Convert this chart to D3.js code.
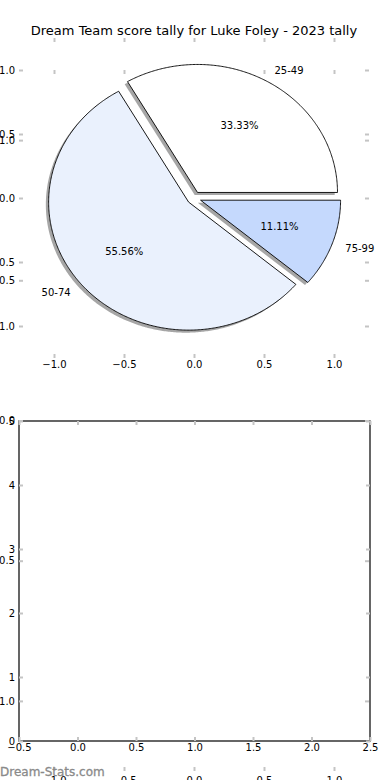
<!DOCTYPE html>
<html>
<head>
<meta charset="utf-8">
<script src="https://cdn.jsdelivr.net/npm/d3@7"></script>
<style>
  body { margin: 0; background: #fff; }
  text { font-family: "DejaVu Sans", sans-serif; fill: #000; }
  .tick line { stroke: #c4c4c4; stroke-width: 2; }
  .domain { display: none; }
</style>
</head>
<body>
<script>
// score bands and counts (33.33 / 55.56 / 11.11 %)
var bands = ["25-49", "50-74", "75-99"];
var counts = [3, 5, 1];
var colors = ["#ffffff", "#eaf1fd", "#c5d9fd"];
var explode = [0.05, 0.05, 0.05];

var pieTicks = [-1, -0.5, 0, 0.5, 1];
var barXTicks = [-0.5, 0, 0.5, 1, 1.5, 2, 2.5];
var barYTicks = [0, 1, 2, 3, 4, 5];

var width = 390, height = 780;
var fmt1 = d3.format(".1f");

var svg = d3.select("body").append("svg")
  .attr("width", width)
  .attr("height", height);

svg.append("rect").attr("width", width).attr("height", height).attr("fill", "#fff");

// draws ticks on all four sides, labels on left and bottom
function drawTicks(g, x, y, xt, yt, xf, yf, padB) {
  var x0 = x.range()[0], x1 = x.range()[1];
  var y0 = y.range()[0], y1 = y.range()[1];
  g.append("g").attr("transform", "translate(0," + y0 + ")")
    .call(d3.axisBottom(x).tickValues(xt).tickFormat(xf).tickSize(-4).tickPadding(padB || 3))
    .selectAll("text").style("font-size", "10px").style("font-family", "DejaVu Sans");
  g.append("g").attr("transform", "translate(0," + y1 + ")")
    .call(d3.axisTop(x).tickValues(xt).tickFormat("").tickSize(-4));
  g.append("g").attr("transform", "translate(" + x0 + ",0)")
    .call(d3.axisLeft(y).tickValues(yt).tickFormat(yf).tickSize(-4).tickPadding(4))
    .selectAll("text").style("font-size", "10px").style("font-family", "DejaVu Sans");
  g.append("g").attr("transform", "translate(" + x1 + ",0)")
    .call(d3.axisRight(y).tickValues(yt).tickFormat("").tickSize(-4));
  g.selectAll(".tick text").attr("fill", "#000");
}

// ---- empty lower axes
var bx = d3.scaleLinear().domain([-0.5, 2.5]).range([19, 370]);
var by = d3.scaleLinear().domain([0, 5]).range([741, 421]);
var gBar = svg.append("g");
gBar.append("rect")
  .attr("x", bx(-0.5)).attr("y", by(5))
  .attr("width", bx(2.5) - bx(-0.5)).attr("height", by(0) - by(5))
  .attr("fill", "none").attr("stroke", "#000").attr("stroke-width", 1.2);
drawTicks(gBar, bx, by, barXTicks, barYTicks, fmt1, d3.format("d"));

// ---- stray stretched pie axes (no pie)
var sx = d3.scaleLinear().domain([-1.25, 1.25]).range([19, 369]);
var sy = d3.scaleLinear().domain([-1.25, 1.25]).range([771, 70]);
drawTicks(svg.append("g"), sx, sy, pieTicks, pieTicks, fmt1, fmt1, 6);

// ---- pie axes
var px = d3.scaleLinear().domain([-1.25, 1.25]).range([19, 369]);
var py = d3.scaleLinear().domain([-1.25, 1.25]).range([358, 38]);
var gPie = svg.append("g");
drawTicks(gPie, px, py, pieTicks, pieTicks, fmt1, fmt1);

var total = d3.sum(counts);
var arcs = d3.pie().sort(null).value(function(d) { return d; })(counts);

var wedges = arcs.map(function(a, i) {
  // matplotlib style: start at 3 o'clock, counter-clockwise
  var t1 = a.startAngle, t2 = a.endAngle;
  var tm = (t1 + t2) / 2;
  var cx = explode[i] * Math.cos(tm), cy = explode[i] * Math.sin(tm);
  var n = Math.max(2, Math.ceil((t2 - t1) / 0.01));
  var pts = [[cx, cy]];
  d3.range(n + 1).forEach(function(k) {
    var t = t1 + (t2 - t1) * k / n;
    pts.push([cx + Math.cos(t), cy + Math.sin(t)]);
  });
  return { i: i, pts: pts, tm: tm, cx: cx, cy: cy, pct: a.value / total * 100 };
});

var line = d3.line()
  .x(function(d) { return px(d[0]); })
  .y(function(d) { return py(d[1]); });

var shadowLine = d3.line()
  .x(function(d) { return px(d[0] - 0.02); })
  .y(function(d) { return py(d[1] - 0.02); });

gPie.selectAll(".shadow").data(wedges).enter().append("path")
  .attr("class", "shadow")
  .attr("d", function(d) { return shadowLine(d.pts) + "Z"; })
  .attr("fill", "#4d4d4d")
  .attr("fill-opacity", 0.5);

gPie.selectAll(".wedge").data(wedges).enter().append("path")
  .attr("class", "wedge")
  .attr("d", function(d) { return line(d.pts) + "Z"; })
  .attr("fill", function(d) { return colors[d.i]; })
  .attr("stroke", "#000")
  .attr("stroke-width", 0.9)
  .attr("stroke-linejoin", "miter");

gPie.selectAll(".lbl").data(wedges).enter().append("text")
  .attr("x", function(d) { return px(d.cx + 1.1 * Math.cos(d.tm)); })
  .attr("y", function(d) { return py(d.cy + 1.1 * Math.sin(d.tm)); })
  .attr("dy", "0.35em")
  .attr("text-anchor", function(d) { return Math.cos(d.tm) > 0 ? "start" : "end"; })
  .style("font-size", "10px")
  .text(function(d) { return bands[d.i]; });

gPie.selectAll(".pct").data(wedges).enter().append("text")
  .attr("x", function(d) { return px(d.cx + 0.6 * Math.cos(d.tm)); })
  .attr("y", function(d) { return py(d.cy + 0.6 * Math.sin(d.tm)); })
  .attr("dy", "0.35em")
  .attr("text-anchor", "middle")
  .style("font-size", "10px")
  .text(function(d) { return d.pct.toFixed(2) + "%"; });

svg.append("text")
  .attr("x", 194).attr("y", 35)
  .attr("text-anchor", "middle")
  .style("font-size", "13px")
  .text("Dream Team score tally for Luke Foley - 2023 tally");

svg.append("text")
  .attr("x", 0).attr("y", 776)
  .style("font-size", "12px")
  .style("fill", "#8a8a8a")
  .style("stroke", "#8a8a8a")
  .style("stroke-width", 0.3)
  .text("Dream-Stats.com");
</script>
</body>
</html>
